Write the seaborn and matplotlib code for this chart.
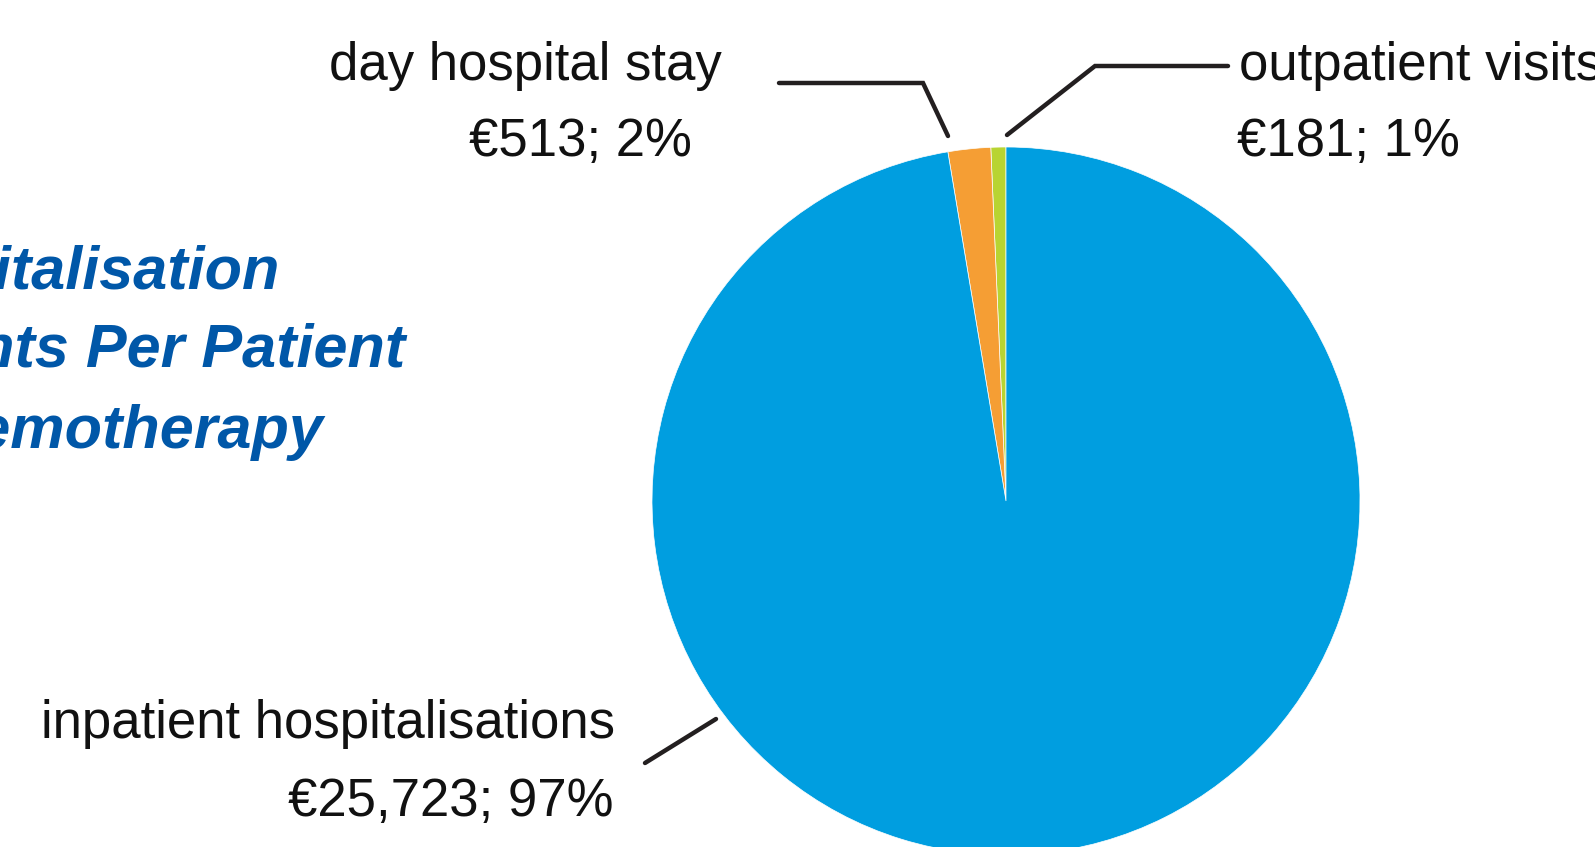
import matplotlib
matplotlib.use("Agg")
import matplotlib.pyplot as plt
import seaborn as sns

sns.set_theme(style="white")
plt.rcParams['font.family'] = ['Liberation Sans Narrow', 'Liberation Sans', 'DejaVu Sans']

# Data
categories = ["outpatient visits", "day hospital stay", "inpatient hospitalisations"]
costs = [181, 513, 25723]
shares = [1, 2, 97]
colors = ["#B8D432", "#F59E34", "#009EE0"]
title_lines = ["Hospitalisation", "Payments Per Patient", "on Chemotherapy"]

W, H = 1595, 847
fig = plt.figure(figsize=(W / 100, H / 100), dpi=100)
ax = fig.add_axes([0, 0, 1, 1])


def Y(y):
    return H - y


ax.pie(costs, colors=colors, startangle=90, counterclock=True,
       center=(1006, Y(501)), radius=354, frame=True,
       wedgeprops=dict(linewidth=0.5, edgecolor="white"))
ax.set_xlim(0, W)
ax.set_ylim(0, H)
ax.set_aspect("auto")
ax.axis("off")

lab = [f"€{c:,}; {s}%" for c, s in zip(costs, shares)]
fs = 38
tc = "#111111"
# outpatient
ax.text(1239, Y(66), categories[0], ha="left", va="center", fontsize=fs, color=tc)
ax.text(1237, Y(142), lab[0], ha="left", va="center", fontsize=fs, color=tc)
# day hospital
ax.text(722, Y(66), categories[1], ha="right", va="center", fontsize=fs, color=tc)
ax.text(692, Y(142), lab[1], ha="right", va="center", fontsize=fs, color=tc)
# inpatient
ax.text(615, Y(724), categories[2], ha="right", va="center", fontsize=fs, color=tc)
ax.text(613, Y(802), lab[2], ha="right", va="center", fontsize=fs, color=tc)

lc = "#231F20"
lw = 3.2
ax.plot([779, 923, 948], [Y(83), Y(83), Y(136)], color=lc, lw=lw, solid_capstyle="round", solid_joinstyle="miter")
ax.plot([1007, 1095, 1228], [Y(135), Y(66), Y(66)], color=lc, lw=lw, solid_capstyle="round", solid_joinstyle="miter")
ax.plot([645, 716], [Y(763), Y(719)], color=lc, lw=lw, solid_capstyle="round")

tcol = "#0057A8"
for txt, x, y in zip(title_lines, [280, 405, 323], [273, 351, 432]):
    ax.text(x, Y(y), txt, ha="right", va="center", fontsize=44, color=tcol,
            fontweight="bold", fontstyle="italic")

fig.savefig("out.png", dpi=100)
